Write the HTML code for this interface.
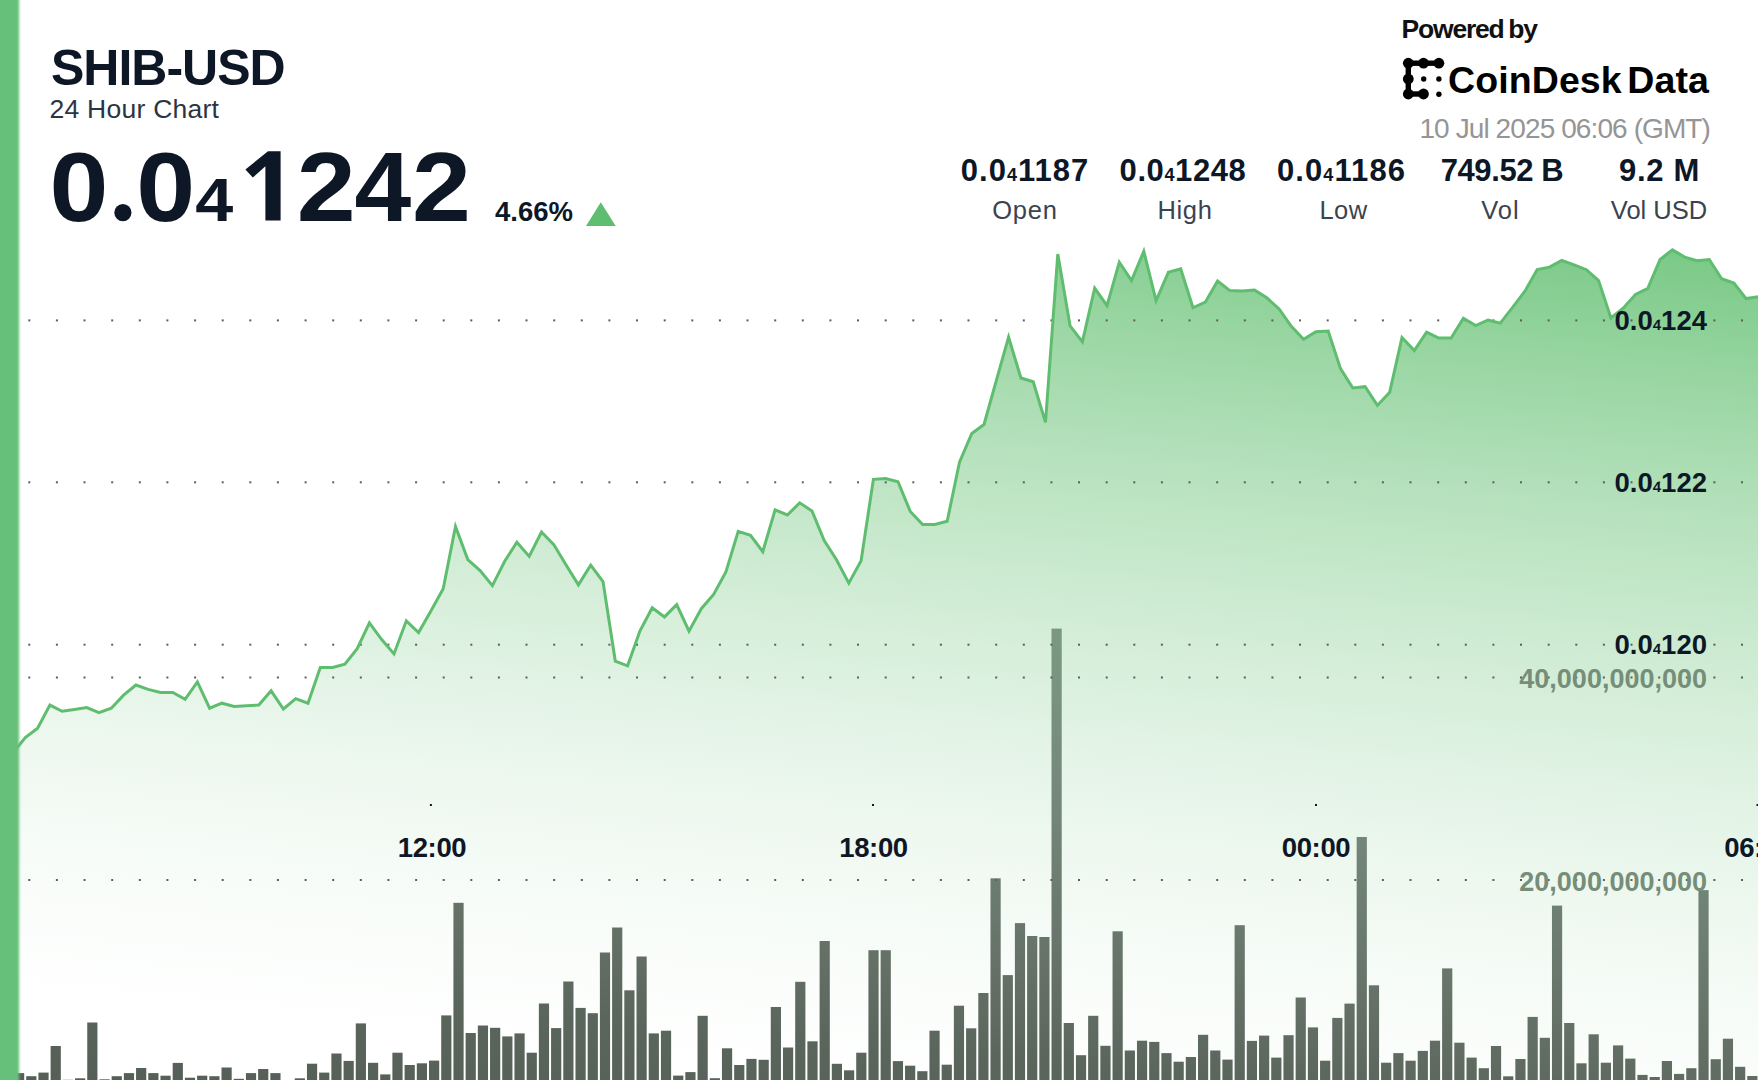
<!DOCTYPE html>
<html><head><meta charset="utf-8">
<style>
html,body{margin:0;padding:0;width:1758px;height:1080px;overflow:hidden;background:#fff;}
svg{position:absolute;left:-12px;top:-12px;}
text{font-family:"Liberation Sans",sans-serif;}
</style></head>
<body>
<svg width="1782" height="1104" viewBox="-12 -12 1782 1104">
<rect x="-12" y="-12" width="1782" height="1104" fill="#fff"/>
<defs>
<linearGradient id="ag" gradientUnits="userSpaceOnUse" x1="0" y1="0" x2="-108.91" y2="1089.11"><stop offset="0.0000" stop-color="#5fbe6e" stop-opacity="0.969"/><stop offset="0.0227" stop-color="#5fbe6e" stop-opacity="0.926"/><stop offset="0.0455" stop-color="#5fbe6e" stop-opacity="0.884"/><stop offset="0.0682" stop-color="#5fbe6e" stop-opacity="0.843"/><stop offset="0.0909" stop-color="#5fbe6e" stop-opacity="0.803"/><stop offset="0.1136" stop-color="#5fbe6e" stop-opacity="0.765"/><stop offset="0.1364" stop-color="#5fbe6e" stop-opacity="0.727"/><stop offset="0.1591" stop-color="#5fbe6e" stop-opacity="0.689"/><stop offset="0.1818" stop-color="#5fbe6e" stop-opacity="0.653"/><stop offset="0.2045" stop-color="#5fbe6e" stop-opacity="0.618"/><stop offset="0.2273" stop-color="#5fbe6e" stop-opacity="0.584"/><stop offset="0.2500" stop-color="#5fbe6e" stop-opacity="0.551"/><stop offset="0.2727" stop-color="#5fbe6e" stop-opacity="0.519"/><stop offset="0.2955" stop-color="#5fbe6e" stop-opacity="0.487"/><stop offset="0.3182" stop-color="#5fbe6e" stop-opacity="0.457"/><stop offset="0.3409" stop-color="#5fbe6e" stop-opacity="0.428"/><stop offset="0.3636" stop-color="#5fbe6e" stop-opacity="0.399"/><stop offset="0.3864" stop-color="#5fbe6e" stop-opacity="0.372"/><stop offset="0.4091" stop-color="#5fbe6e" stop-opacity="0.345"/><stop offset="0.4318" stop-color="#5fbe6e" stop-opacity="0.319"/><stop offset="0.4545" stop-color="#5fbe6e" stop-opacity="0.295"/><stop offset="0.4773" stop-color="#5fbe6e" stop-opacity="0.271"/><stop offset="0.5000" stop-color="#5fbe6e" stop-opacity="0.248"/><stop offset="0.5227" stop-color="#5fbe6e" stop-opacity="0.227"/><stop offset="0.5455" stop-color="#5fbe6e" stop-opacity="0.206"/><stop offset="0.5682" stop-color="#5fbe6e" stop-opacity="0.186"/><stop offset="0.5909" stop-color="#5fbe6e" stop-opacity="0.167"/><stop offset="0.6136" stop-color="#5fbe6e" stop-opacity="0.149"/><stop offset="0.6364" stop-color="#5fbe6e" stop-opacity="0.132"/><stop offset="0.6591" stop-color="#5fbe6e" stop-opacity="0.116"/><stop offset="0.6818" stop-color="#5fbe6e" stop-opacity="0.101"/><stop offset="0.7045" stop-color="#5fbe6e" stop-opacity="0.087"/><stop offset="0.7273" stop-color="#5fbe6e" stop-opacity="0.074"/><stop offset="0.7500" stop-color="#5fbe6e" stop-opacity="0.062"/><stop offset="0.7727" stop-color="#5fbe6e" stop-opacity="0.050"/><stop offset="0.7955" stop-color="#5fbe6e" stop-opacity="0.040"/><stop offset="0.8182" stop-color="#5fbe6e" stop-opacity="0.031"/><stop offset="0.8409" stop-color="#5fbe6e" stop-opacity="0.022"/><stop offset="0.8636" stop-color="#5fbe6e" stop-opacity="0.015"/><stop offset="0.8864" stop-color="#5fbe6e" stop-opacity="0.009"/><stop offset="0.9091" stop-color="#5fbe6e" stop-opacity="0.003"/><stop offset="0.9318" stop-color="#5fbe6e" stop-opacity="0.000"/><stop offset="0.9545" stop-color="#5fbe6e" stop-opacity="0.000"/><stop offset="0.9773" stop-color="#5fbe6e" stop-opacity="0.000"/><stop offset="1.0000" stop-color="#5fbe6e" stop-opacity="0.000"/></linearGradient>
<linearGradient id="bg" gradientUnits="userSpaceOnUse" x1="0" y1="0" x2="-108.91" y2="1089.11"><stop offset="0.0000" stop-color="rgb(128,165,134)"/><stop offset="0.4855" stop-color="rgb(122,152,128)"/><stop offset="0.6273" stop-color="rgb(116,136,122)"/><stop offset="0.7809" stop-color="rgb(102,114,104)"/><stop offset="0.8718" stop-color="rgb(90,101,92)"/><stop offset="1.0000" stop-color="rgb(84,94,86)"/></linearGradient>
</defs>
<path d="M0.7,762.0 L13.0,753.0 L25.3,737.6 L37.6,728.2 L49.9,705.1 L62.1,711.3 L74.4,709.4 L86.7,707.6 L99.0,712.6 L111.3,708.2 L123.6,695.1 L135.9,685.0 L148.2,689.4 L160.5,692.5 L172.8,692.5 L185.1,699.4 L197.4,681.9 L209.6,708.2 L221.9,703.2 L234.2,706.4 L246.5,705.7 L258.8,705.1 L271.1,690.8 L283.4,709.0 L295.7,698.6 L308.0,703.2 L320.3,667.5 L332.6,667.5 L344.9,664.3 L357.2,648.7 L369.4,622.8 L381.7,639.6 L394.0,653.9 L406.3,620.8 L418.6,632.5 L430.9,611.0 L443.2,588.7 L455.5,526.5 L467.8,559.6 L480.1,570.6 L492.4,585.6 L504.7,561.2 L516.9,542.3 L529.2,556.4 L541.5,532.0 L553.8,544.6 L566.1,565.1 L578.4,584.8 L590.7,565.1 L603.0,581.6 L615.3,661.1 L627.6,665.8 L639.9,631.1 L652.2,607.7 L664.5,616.9 L676.7,604.6 L689.0,631.1 L701.3,608.7 L713.6,594.4 L725.9,572.0 L738.2,531.3 L750.5,535.4 L762.8,551.7 L775.1,509.9 L787.4,515.0 L799.7,502.8 L812.0,510.9 L824.2,540.5 L836.5,559.8 L848.8,583.2 L861.1,560.8 L873.4,479.3 L885.7,478.5 L898.0,481.7 L910.3,511.5 L922.6,524.5 L934.9,524.5 L947.2,521.2 L959.5,462.2 L971.8,433.5 L984.0,424.5 L996.3,380.7 L1008.6,337.2 L1020.9,378.0 L1033.2,381.7 L1045.5,422.4 L1057.8,254.0 L1070.1,326.0 L1082.4,341.9 L1094.7,288.1 L1107.0,305.6 L1119.3,262.2 L1131.5,280.6 L1143.8,251.3 L1156.1,300.6 L1168.4,272.2 L1180.7,268.9 L1193.0,307.8 L1205.3,302.2 L1217.6,281.1 L1229.9,290.6 L1242.2,291.0 L1254.5,290.0 L1266.8,297.8 L1279.1,308.9 L1291.3,326.3 L1303.6,339.4 L1315.9,331.8 L1328.2,331.1 L1340.5,368.6 L1352.8,388.0 L1365.1,386.7 L1377.4,405.4 L1389.7,392.2 L1402.0,337.5 L1414.3,350.5 L1426.6,332.1 L1438.8,338.1 L1451.1,338.1 L1463.4,318.2 L1475.7,325.5 L1488.0,320.0 L1500.3,323.1 L1512.6,307.4 L1524.9,291.2 L1537.2,269.5 L1549.5,267.1 L1561.8,260.5 L1574.1,264.8 L1586.4,269.7 L1598.6,280.6 L1610.9,317.9 L1623.2,308.2 L1635.5,294.4 L1647.8,288.4 L1660.1,259.5 L1672.4,249.9 L1684.7,257.1 L1697.0,260.7 L1709.3,259.5 L1721.6,278.7 L1733.9,283.0 L1746.1,298.6 L1758.4,296.8 L1770.7,297.0 L1770.7,1100 L0.7,1100 Z" fill="url(#ag)"/>
<g fill="url(#bg)">
<rect x="14.00" y="1073.1" width="10.2" height="26.9"/>
<rect x="26.21" y="1076.2" width="10.2" height="23.8"/>
<rect x="38.41" y="1072.6" width="10.2" height="27.4"/>
<rect x="50.62" y="1046.0" width="10.2" height="54.0"/>
<rect x="62.83" y="1079.8" width="10.2" height="20.2"/>
<rect x="75.03" y="1078.3" width="10.2" height="21.7"/>
<rect x="87.24" y="1022.5" width="10.2" height="77.5"/>
<rect x="99.45" y="1079.3" width="10.2" height="20.7"/>
<rect x="111.65" y="1076.2" width="10.2" height="23.8"/>
<rect x="123.86" y="1073.1" width="10.2" height="26.9"/>
<rect x="136.06" y="1068.0" width="10.2" height="32.0"/>
<rect x="148.27" y="1073.1" width="10.2" height="26.9"/>
<rect x="160.47" y="1075.7" width="10.2" height="24.3"/>
<rect x="172.68" y="1062.9" width="10.2" height="37.1"/>
<rect x="184.89" y="1077.7" width="10.2" height="22.3"/>
<rect x="197.09" y="1075.7" width="10.2" height="24.3"/>
<rect x="209.30" y="1076.2" width="10.2" height="23.8"/>
<rect x="221.50" y="1067.5" width="10.2" height="32.5"/>
<rect x="233.71" y="1078.8" width="10.2" height="21.2"/>
<rect x="245.92" y="1073.1" width="10.2" height="26.9"/>
<rect x="258.12" y="1069.0" width="10.2" height="31.0"/>
<rect x="270.33" y="1073.1" width="10.2" height="26.9"/>
<rect x="282.53" y="1081.0" width="10.2" height="19.0"/>
<rect x="294.74" y="1078.3" width="10.2" height="21.7"/>
<rect x="306.95" y="1063.7" width="10.2" height="36.3"/>
<rect x="319.15" y="1072.6" width="10.2" height="27.4"/>
<rect x="331.36" y="1053.5" width="10.2" height="46.5"/>
<rect x="343.56" y="1060.9" width="10.2" height="39.1"/>
<rect x="355.77" y="1023.4" width="10.2" height="76.6"/>
<rect x="367.98" y="1062.8" width="10.2" height="37.2"/>
<rect x="380.18" y="1074.4" width="10.2" height="25.6"/>
<rect x="392.39" y="1052.7" width="10.2" height="47.3"/>
<rect x="404.59" y="1065.0" width="10.2" height="35.0"/>
<rect x="416.80" y="1063.3" width="10.2" height="36.7"/>
<rect x="429.01" y="1060.6" width="10.2" height="39.4"/>
<rect x="441.21" y="1015.4" width="10.2" height="84.6"/>
<rect x="453.42" y="902.8" width="10.2" height="197.2"/>
<rect x="465.62" y="1033.0" width="10.2" height="67.0"/>
<rect x="477.83" y="1025.5" width="10.2" height="74.5"/>
<rect x="490.04" y="1027.8" width="10.2" height="72.2"/>
<rect x="502.24" y="1036.4" width="10.2" height="63.6"/>
<rect x="514.45" y="1033.4" width="10.2" height="66.6"/>
<rect x="526.65" y="1052.7" width="10.2" height="47.3"/>
<rect x="538.86" y="1003.5" width="10.2" height="96.5"/>
<rect x="551.07" y="1028.1" width="10.2" height="71.9"/>
<rect x="563.27" y="981.5" width="10.2" height="118.5"/>
<rect x="575.48" y="1007.9" width="10.2" height="92.1"/>
<rect x="587.68" y="1013.2" width="10.2" height="86.8"/>
<rect x="599.89" y="952.5" width="10.2" height="147.5"/>
<rect x="612.10" y="927.5" width="10.2" height="172.5"/>
<rect x="624.30" y="990.3" width="10.2" height="109.7"/>
<rect x="636.51" y="956.5" width="10.2" height="143.5"/>
<rect x="648.71" y="1033.4" width="10.2" height="66.6"/>
<rect x="660.92" y="1030.7" width="10.2" height="69.3"/>
<rect x="673.13" y="1075.6" width="10.2" height="24.4"/>
<rect x="685.33" y="1072.1" width="10.2" height="27.9"/>
<rect x="697.54" y="1015.8" width="10.2" height="84.2"/>
<rect x="709.75" y="1078.2" width="10.2" height="21.8"/>
<rect x="721.95" y="1048.3" width="10.2" height="51.7"/>
<rect x="734.16" y="1065.0" width="10.2" height="35.0"/>
<rect x="746.36" y="1058.9" width="10.2" height="41.1"/>
<rect x="758.57" y="1059.8" width="10.2" height="40.2"/>
<rect x="770.77" y="1007.0" width="10.2" height="93.0"/>
<rect x="782.98" y="1047.5" width="10.2" height="52.5"/>
<rect x="795.19" y="981.8" width="10.2" height="118.2"/>
<rect x="807.39" y="1041.3" width="10.2" height="58.7"/>
<rect x="819.60" y="941.0" width="10.2" height="159.0"/>
<rect x="831.80" y="1063.8" width="10.2" height="36.2"/>
<rect x="844.01" y="1070.3" width="10.2" height="29.7"/>
<rect x="856.22" y="1052.7" width="10.2" height="47.3"/>
<rect x="868.42" y="950.2" width="10.2" height="149.8"/>
<rect x="880.63" y="950.2" width="10.2" height="149.8"/>
<rect x="892.83" y="1061.1" width="10.2" height="38.9"/>
<rect x="905.04" y="1065.7" width="10.2" height="34.3"/>
<rect x="917.25" y="1071.2" width="10.2" height="28.8"/>
<rect x="929.45" y="1030.7" width="10.2" height="69.3"/>
<rect x="941.66" y="1064.7" width="10.2" height="35.3"/>
<rect x="953.86" y="1005.7" width="10.2" height="94.3"/>
<rect x="966.07" y="1028.3" width="10.2" height="71.7"/>
<rect x="978.28" y="993.0" width="10.2" height="107.0"/>
<rect x="990.48" y="878.3" width="10.2" height="221.7"/>
<rect x="1002.69" y="975.1" width="10.2" height="124.9"/>
<rect x="1014.89" y="923.1" width="10.2" height="176.9"/>
<rect x="1027.10" y="936.0" width="10.2" height="164.0"/>
<rect x="1039.31" y="937.0" width="10.2" height="163.0"/>
<rect x="1051.51" y="628.6" width="10.2" height="471.4"/>
<rect x="1063.72" y="1023.0" width="10.2" height="77.0"/>
<rect x="1075.92" y="1055.2" width="10.2" height="44.8"/>
<rect x="1088.13" y="1015.8" width="10.2" height="84.2"/>
<rect x="1100.34" y="1045.8" width="10.2" height="54.2"/>
<rect x="1112.54" y="931.3" width="10.2" height="168.7"/>
<rect x="1124.75" y="1050.5" width="10.2" height="49.5"/>
<rect x="1136.96" y="1040.7" width="10.2" height="59.3"/>
<rect x="1149.16" y="1041.9" width="10.2" height="58.1"/>
<rect x="1161.37" y="1053.1" width="10.2" height="46.9"/>
<rect x="1173.57" y="1061.7" width="10.2" height="38.3"/>
<rect x="1185.78" y="1057.0" width="10.2" height="43.0"/>
<rect x="1197.99" y="1034.8" width="10.2" height="65.2"/>
<rect x="1210.19" y="1050.5" width="10.2" height="49.5"/>
<rect x="1222.40" y="1059.6" width="10.2" height="40.4"/>
<rect x="1234.60" y="925.2" width="10.2" height="174.8"/>
<rect x="1246.81" y="1040.9" width="10.2" height="59.1"/>
<rect x="1259.02" y="1035.6" width="10.2" height="64.4"/>
<rect x="1271.22" y="1057.6" width="10.2" height="42.4"/>
<rect x="1283.43" y="1035.2" width="10.2" height="64.8"/>
<rect x="1295.63" y="997.5" width="10.2" height="102.5"/>
<rect x="1307.84" y="1027.4" width="10.2" height="72.6"/>
<rect x="1320.05" y="1060.7" width="10.2" height="39.3"/>
<rect x="1332.25" y="1017.9" width="10.2" height="82.1"/>
<rect x="1344.46" y="1003.6" width="10.2" height="96.4"/>
<rect x="1356.66" y="837.0" width="10.2" height="263.0"/>
<rect x="1368.87" y="985.3" width="10.2" height="114.7"/>
<rect x="1381.08" y="1062.7" width="10.2" height="37.3"/>
<rect x="1393.28" y="1053.1" width="10.2" height="46.9"/>
<rect x="1405.49" y="1060.7" width="10.2" height="39.3"/>
<rect x="1417.69" y="1050.9" width="10.2" height="49.1"/>
<rect x="1429.90" y="1040.7" width="10.2" height="59.3"/>
<rect x="1442.11" y="968.4" width="10.2" height="131.6"/>
<rect x="1454.31" y="1042.7" width="10.2" height="57.3"/>
<rect x="1466.52" y="1057.6" width="10.2" height="42.4"/>
<rect x="1478.72" y="1068.2" width="10.2" height="31.8"/>
<rect x="1490.93" y="1046.0" width="10.2" height="54.0"/>
<rect x="1503.13" y="1076.3" width="10.2" height="23.7"/>
<rect x="1515.34" y="1059.0" width="10.2" height="41.0"/>
<rect x="1527.55" y="1016.9" width="10.2" height="83.1"/>
<rect x="1539.75" y="1037.8" width="10.2" height="62.2"/>
<rect x="1551.96" y="905.6" width="10.2" height="194.4"/>
<rect x="1564.16" y="1023.0" width="10.2" height="77.0"/>
<rect x="1576.37" y="1063.3" width="10.2" height="36.7"/>
<rect x="1588.58" y="1034.3" width="10.2" height="65.7"/>
<rect x="1600.78" y="1062.7" width="10.2" height="37.3"/>
<rect x="1612.99" y="1045.4" width="10.2" height="54.6"/>
<rect x="1625.19" y="1058.6" width="10.2" height="41.4"/>
<rect x="1637.40" y="1074.9" width="10.2" height="25.1"/>
<rect x="1649.61" y="1077.0" width="10.2" height="23.0"/>
<rect x="1661.81" y="1061.0" width="10.2" height="39.0"/>
<rect x="1674.02" y="1073.9" width="10.2" height="26.1"/>
<rect x="1686.23" y="1068.2" width="10.2" height="31.8"/>
<rect x="1698.43" y="890.1" width="10.2" height="209.9"/>
<rect x="1710.64" y="1059.2" width="10.2" height="40.8"/>
<rect x="1722.84" y="1038.7" width="10.2" height="61.3"/>
<rect x="1735.05" y="1066.8" width="10.2" height="33.2"/>
<rect x="1747.26" y="1076.0" width="10.2" height="24.0"/>
</g>
<g fill="#5e5e5e">
<rect x="28.3" y="319.4" width="2" height="2"/>
<rect x="55.9" y="319.4" width="2" height="2"/>
<rect x="83.5" y="319.4" width="2" height="2"/>
<rect x="111.2" y="319.4" width="2" height="2"/>
<rect x="138.8" y="319.4" width="2" height="2"/>
<rect x="166.4" y="319.4" width="2" height="2"/>
<rect x="194.1" y="319.4" width="2" height="2"/>
<rect x="221.7" y="319.4" width="2" height="2"/>
<rect x="249.3" y="319.4" width="2" height="2"/>
<rect x="276.9" y="319.4" width="2" height="2"/>
<rect x="304.6" y="319.4" width="2" height="2"/>
<rect x="332.2" y="319.4" width="2" height="2"/>
<rect x="359.8" y="319.4" width="2" height="2"/>
<rect x="387.4" y="319.4" width="2" height="2"/>
<rect x="415.1" y="319.4" width="2" height="2"/>
<rect x="442.7" y="319.4" width="2" height="2"/>
<rect x="470.3" y="319.4" width="2" height="2"/>
<rect x="497.9" y="319.4" width="2" height="2"/>
<rect x="525.5" y="319.4" width="2" height="2"/>
<rect x="553.2" y="319.4" width="2" height="2"/>
<rect x="580.8" y="319.4" width="2" height="2"/>
<rect x="608.4" y="319.4" width="2" height="2"/>
<rect x="636.0" y="319.4" width="2" height="2"/>
<rect x="663.7" y="319.4" width="2" height="2"/>
<rect x="691.3" y="319.4" width="2" height="2"/>
<rect x="718.9" y="319.4" width="2" height="2"/>
<rect x="746.5" y="319.4" width="2" height="2"/>
<rect x="774.2" y="319.4" width="2" height="2"/>
<rect x="801.8" y="319.4" width="2" height="2"/>
<rect x="829.4" y="319.4" width="2" height="2"/>
<rect x="857.0" y="319.4" width="2" height="2"/>
<rect x="884.7" y="319.4" width="2" height="2"/>
<rect x="912.3" y="319.4" width="2" height="2"/>
<rect x="939.9" y="319.4" width="2" height="2"/>
<rect x="967.5" y="319.4" width="2" height="2"/>
<rect x="995.2" y="319.4" width="2" height="2"/>
<rect x="1022.8" y="319.4" width="2" height="2"/>
<rect x="1050.4" y="319.4" width="2" height="2"/>
<rect x="1078.0" y="319.4" width="2" height="2"/>
<rect x="1105.7" y="319.4" width="2" height="2"/>
<rect x="1133.3" y="319.4" width="2" height="2"/>
<rect x="1160.9" y="319.4" width="2" height="2"/>
<rect x="1188.5" y="319.4" width="2" height="2"/>
<rect x="1216.2" y="319.4" width="2" height="2"/>
<rect x="1243.8" y="319.4" width="2" height="2"/>
<rect x="1271.4" y="319.4" width="2" height="2"/>
<rect x="1299.0" y="319.4" width="2" height="2"/>
<rect x="1326.7" y="319.4" width="2" height="2"/>
<rect x="1354.3" y="319.4" width="2" height="2"/>
<rect x="1381.9" y="319.4" width="2" height="2"/>
<rect x="1409.5" y="319.4" width="2" height="2"/>
<rect x="1437.2" y="319.4" width="2" height="2"/>
<rect x="1464.8" y="319.4" width="2" height="2"/>
<rect x="1492.4" y="319.4" width="2" height="2"/>
<rect x="1520.0" y="319.4" width="2" height="2"/>
<rect x="1547.7" y="319.4" width="2" height="2"/>
<rect x="1575.3" y="319.4" width="2" height="2"/>
<rect x="1602.9" y="319.4" width="2" height="2"/>
<rect x="1630.5" y="319.4" width="2" height="2"/>
<rect x="1658.2" y="319.4" width="2" height="2"/>
<rect x="1685.8" y="319.4" width="2" height="2"/>
<rect x="1713.4" y="319.4" width="2" height="2"/>
<rect x="1741.0" y="319.4" width="2" height="2"/>
<rect x="28.3" y="481.3" width="2" height="2"/>
<rect x="55.9" y="481.3" width="2" height="2"/>
<rect x="83.5" y="481.3" width="2" height="2"/>
<rect x="111.2" y="481.3" width="2" height="2"/>
<rect x="138.8" y="481.3" width="2" height="2"/>
<rect x="166.4" y="481.3" width="2" height="2"/>
<rect x="194.1" y="481.3" width="2" height="2"/>
<rect x="221.7" y="481.3" width="2" height="2"/>
<rect x="249.3" y="481.3" width="2" height="2"/>
<rect x="276.9" y="481.3" width="2" height="2"/>
<rect x="304.6" y="481.3" width="2" height="2"/>
<rect x="332.2" y="481.3" width="2" height="2"/>
<rect x="359.8" y="481.3" width="2" height="2"/>
<rect x="387.4" y="481.3" width="2" height="2"/>
<rect x="415.1" y="481.3" width="2" height="2"/>
<rect x="442.7" y="481.3" width="2" height="2"/>
<rect x="470.3" y="481.3" width="2" height="2"/>
<rect x="497.9" y="481.3" width="2" height="2"/>
<rect x="525.5" y="481.3" width="2" height="2"/>
<rect x="553.2" y="481.3" width="2" height="2"/>
<rect x="580.8" y="481.3" width="2" height="2"/>
<rect x="608.4" y="481.3" width="2" height="2"/>
<rect x="636.0" y="481.3" width="2" height="2"/>
<rect x="663.7" y="481.3" width="2" height="2"/>
<rect x="691.3" y="481.3" width="2" height="2"/>
<rect x="718.9" y="481.3" width="2" height="2"/>
<rect x="746.5" y="481.3" width="2" height="2"/>
<rect x="774.2" y="481.3" width="2" height="2"/>
<rect x="801.8" y="481.3" width="2" height="2"/>
<rect x="829.4" y="481.3" width="2" height="2"/>
<rect x="857.0" y="481.3" width="2" height="2"/>
<rect x="884.7" y="481.3" width="2" height="2"/>
<rect x="912.3" y="481.3" width="2" height="2"/>
<rect x="939.9" y="481.3" width="2" height="2"/>
<rect x="967.5" y="481.3" width="2" height="2"/>
<rect x="995.2" y="481.3" width="2" height="2"/>
<rect x="1022.8" y="481.3" width="2" height="2"/>
<rect x="1050.4" y="481.3" width="2" height="2"/>
<rect x="1078.0" y="481.3" width="2" height="2"/>
<rect x="1105.7" y="481.3" width="2" height="2"/>
<rect x="1133.3" y="481.3" width="2" height="2"/>
<rect x="1160.9" y="481.3" width="2" height="2"/>
<rect x="1188.5" y="481.3" width="2" height="2"/>
<rect x="1216.2" y="481.3" width="2" height="2"/>
<rect x="1243.8" y="481.3" width="2" height="2"/>
<rect x="1271.4" y="481.3" width="2" height="2"/>
<rect x="1299.0" y="481.3" width="2" height="2"/>
<rect x="1326.7" y="481.3" width="2" height="2"/>
<rect x="1354.3" y="481.3" width="2" height="2"/>
<rect x="1381.9" y="481.3" width="2" height="2"/>
<rect x="1409.5" y="481.3" width="2" height="2"/>
<rect x="1437.2" y="481.3" width="2" height="2"/>
<rect x="1464.8" y="481.3" width="2" height="2"/>
<rect x="1492.4" y="481.3" width="2" height="2"/>
<rect x="1520.0" y="481.3" width="2" height="2"/>
<rect x="1547.7" y="481.3" width="2" height="2"/>
<rect x="1575.3" y="481.3" width="2" height="2"/>
<rect x="1602.9" y="481.3" width="2" height="2"/>
<rect x="1630.5" y="481.3" width="2" height="2"/>
<rect x="1658.2" y="481.3" width="2" height="2"/>
<rect x="1685.8" y="481.3" width="2" height="2"/>
<rect x="1713.4" y="481.3" width="2" height="2"/>
<rect x="1741.0" y="481.3" width="2" height="2"/>
<rect x="28.3" y="643.7" width="2" height="2"/>
<rect x="55.9" y="643.7" width="2" height="2"/>
<rect x="83.5" y="643.7" width="2" height="2"/>
<rect x="111.2" y="643.7" width="2" height="2"/>
<rect x="138.8" y="643.7" width="2" height="2"/>
<rect x="166.4" y="643.7" width="2" height="2"/>
<rect x="194.1" y="643.7" width="2" height="2"/>
<rect x="221.7" y="643.7" width="2" height="2"/>
<rect x="249.3" y="643.7" width="2" height="2"/>
<rect x="276.9" y="643.7" width="2" height="2"/>
<rect x="304.6" y="643.7" width="2" height="2"/>
<rect x="332.2" y="643.7" width="2" height="2"/>
<rect x="359.8" y="643.7" width="2" height="2"/>
<rect x="387.4" y="643.7" width="2" height="2"/>
<rect x="415.1" y="643.7" width="2" height="2"/>
<rect x="442.7" y="643.7" width="2" height="2"/>
<rect x="470.3" y="643.7" width="2" height="2"/>
<rect x="497.9" y="643.7" width="2" height="2"/>
<rect x="525.5" y="643.7" width="2" height="2"/>
<rect x="553.2" y="643.7" width="2" height="2"/>
<rect x="580.8" y="643.7" width="2" height="2"/>
<rect x="608.4" y="643.7" width="2" height="2"/>
<rect x="636.0" y="643.7" width="2" height="2"/>
<rect x="663.7" y="643.7" width="2" height="2"/>
<rect x="691.3" y="643.7" width="2" height="2"/>
<rect x="718.9" y="643.7" width="2" height="2"/>
<rect x="746.5" y="643.7" width="2" height="2"/>
<rect x="774.2" y="643.7" width="2" height="2"/>
<rect x="801.8" y="643.7" width="2" height="2"/>
<rect x="829.4" y="643.7" width="2" height="2"/>
<rect x="857.0" y="643.7" width="2" height="2"/>
<rect x="884.7" y="643.7" width="2" height="2"/>
<rect x="912.3" y="643.7" width="2" height="2"/>
<rect x="939.9" y="643.7" width="2" height="2"/>
<rect x="967.5" y="643.7" width="2" height="2"/>
<rect x="995.2" y="643.7" width="2" height="2"/>
<rect x="1022.8" y="643.7" width="2" height="2"/>
<rect x="1050.4" y="643.7" width="2" height="2"/>
<rect x="1078.0" y="643.7" width="2" height="2"/>
<rect x="1105.7" y="643.7" width="2" height="2"/>
<rect x="1133.3" y="643.7" width="2" height="2"/>
<rect x="1160.9" y="643.7" width="2" height="2"/>
<rect x="1188.5" y="643.7" width="2" height="2"/>
<rect x="1216.2" y="643.7" width="2" height="2"/>
<rect x="1243.8" y="643.7" width="2" height="2"/>
<rect x="1271.4" y="643.7" width="2" height="2"/>
<rect x="1299.0" y="643.7" width="2" height="2"/>
<rect x="1326.7" y="643.7" width="2" height="2"/>
<rect x="1354.3" y="643.7" width="2" height="2"/>
<rect x="1381.9" y="643.7" width="2" height="2"/>
<rect x="1409.5" y="643.7" width="2" height="2"/>
<rect x="1437.2" y="643.7" width="2" height="2"/>
<rect x="1464.8" y="643.7" width="2" height="2"/>
<rect x="1492.4" y="643.7" width="2" height="2"/>
<rect x="1520.0" y="643.7" width="2" height="2"/>
<rect x="1547.7" y="643.7" width="2" height="2"/>
<rect x="1575.3" y="643.7" width="2" height="2"/>
<rect x="1602.9" y="643.7" width="2" height="2"/>
<rect x="1630.5" y="643.7" width="2" height="2"/>
<rect x="1658.2" y="643.7" width="2" height="2"/>
<rect x="1685.8" y="643.7" width="2" height="2"/>
<rect x="1713.4" y="643.7" width="2" height="2"/>
<rect x="1741.0" y="643.7" width="2" height="2"/>
<rect x="28.3" y="676.5" width="2" height="2"/>
<rect x="55.9" y="676.5" width="2" height="2"/>
<rect x="83.5" y="676.5" width="2" height="2"/>
<rect x="111.2" y="676.5" width="2" height="2"/>
<rect x="138.8" y="676.5" width="2" height="2"/>
<rect x="166.4" y="676.5" width="2" height="2"/>
<rect x="194.1" y="676.5" width="2" height="2"/>
<rect x="221.7" y="676.5" width="2" height="2"/>
<rect x="249.3" y="676.5" width="2" height="2"/>
<rect x="276.9" y="676.5" width="2" height="2"/>
<rect x="304.6" y="676.5" width="2" height="2"/>
<rect x="332.2" y="676.5" width="2" height="2"/>
<rect x="359.8" y="676.5" width="2" height="2"/>
<rect x="387.4" y="676.5" width="2" height="2"/>
<rect x="415.1" y="676.5" width="2" height="2"/>
<rect x="442.7" y="676.5" width="2" height="2"/>
<rect x="470.3" y="676.5" width="2" height="2"/>
<rect x="497.9" y="676.5" width="2" height="2"/>
<rect x="525.5" y="676.5" width="2" height="2"/>
<rect x="553.2" y="676.5" width="2" height="2"/>
<rect x="580.8" y="676.5" width="2" height="2"/>
<rect x="608.4" y="676.5" width="2" height="2"/>
<rect x="636.0" y="676.5" width="2" height="2"/>
<rect x="663.7" y="676.5" width="2" height="2"/>
<rect x="691.3" y="676.5" width="2" height="2"/>
<rect x="718.9" y="676.5" width="2" height="2"/>
<rect x="746.5" y="676.5" width="2" height="2"/>
<rect x="774.2" y="676.5" width="2" height="2"/>
<rect x="801.8" y="676.5" width="2" height="2"/>
<rect x="829.4" y="676.5" width="2" height="2"/>
<rect x="857.0" y="676.5" width="2" height="2"/>
<rect x="884.7" y="676.5" width="2" height="2"/>
<rect x="912.3" y="676.5" width="2" height="2"/>
<rect x="939.9" y="676.5" width="2" height="2"/>
<rect x="967.5" y="676.5" width="2" height="2"/>
<rect x="995.2" y="676.5" width="2" height="2"/>
<rect x="1022.8" y="676.5" width="2" height="2"/>
<rect x="1050.4" y="676.5" width="2" height="2"/>
<rect x="1078.0" y="676.5" width="2" height="2"/>
<rect x="1105.7" y="676.5" width="2" height="2"/>
<rect x="1133.3" y="676.5" width="2" height="2"/>
<rect x="1160.9" y="676.5" width="2" height="2"/>
<rect x="1188.5" y="676.5" width="2" height="2"/>
<rect x="1216.2" y="676.5" width="2" height="2"/>
<rect x="1243.8" y="676.5" width="2" height="2"/>
<rect x="1271.4" y="676.5" width="2" height="2"/>
<rect x="1299.0" y="676.5" width="2" height="2"/>
<rect x="1326.7" y="676.5" width="2" height="2"/>
<rect x="1354.3" y="676.5" width="2" height="2"/>
<rect x="1381.9" y="676.5" width="2" height="2"/>
<rect x="1409.5" y="676.5" width="2" height="2"/>
<rect x="1437.2" y="676.5" width="2" height="2"/>
<rect x="1464.8" y="676.5" width="2" height="2"/>
<rect x="1492.4" y="676.5" width="2" height="2"/>
<rect x="1520.0" y="676.5" width="2" height="2"/>
<rect x="1547.7" y="676.5" width="2" height="2"/>
<rect x="1575.3" y="676.5" width="2" height="2"/>
<rect x="1602.9" y="676.5" width="2" height="2"/>
<rect x="1630.5" y="676.5" width="2" height="2"/>
<rect x="1658.2" y="676.5" width="2" height="2"/>
<rect x="1685.8" y="676.5" width="2" height="2"/>
<rect x="1713.4" y="676.5" width="2" height="2"/>
<rect x="1741.0" y="676.5" width="2" height="2"/>
<rect x="28.3" y="879.0" width="2" height="2"/>
<rect x="55.9" y="879.0" width="2" height="2"/>
<rect x="83.5" y="879.0" width="2" height="2"/>
<rect x="111.2" y="879.0" width="2" height="2"/>
<rect x="138.8" y="879.0" width="2" height="2"/>
<rect x="166.4" y="879.0" width="2" height="2"/>
<rect x="194.1" y="879.0" width="2" height="2"/>
<rect x="221.7" y="879.0" width="2" height="2"/>
<rect x="249.3" y="879.0" width="2" height="2"/>
<rect x="276.9" y="879.0" width="2" height="2"/>
<rect x="304.6" y="879.0" width="2" height="2"/>
<rect x="332.2" y="879.0" width="2" height="2"/>
<rect x="359.8" y="879.0" width="2" height="2"/>
<rect x="387.4" y="879.0" width="2" height="2"/>
<rect x="415.1" y="879.0" width="2" height="2"/>
<rect x="442.7" y="879.0" width="2" height="2"/>
<rect x="470.3" y="879.0" width="2" height="2"/>
<rect x="497.9" y="879.0" width="2" height="2"/>
<rect x="525.5" y="879.0" width="2" height="2"/>
<rect x="553.2" y="879.0" width="2" height="2"/>
<rect x="580.8" y="879.0" width="2" height="2"/>
<rect x="608.4" y="879.0" width="2" height="2"/>
<rect x="636.0" y="879.0" width="2" height="2"/>
<rect x="663.7" y="879.0" width="2" height="2"/>
<rect x="691.3" y="879.0" width="2" height="2"/>
<rect x="718.9" y="879.0" width="2" height="2"/>
<rect x="746.5" y="879.0" width="2" height="2"/>
<rect x="774.2" y="879.0" width="2" height="2"/>
<rect x="801.8" y="879.0" width="2" height="2"/>
<rect x="829.4" y="879.0" width="2" height="2"/>
<rect x="857.0" y="879.0" width="2" height="2"/>
<rect x="884.7" y="879.0" width="2" height="2"/>
<rect x="912.3" y="879.0" width="2" height="2"/>
<rect x="939.9" y="879.0" width="2" height="2"/>
<rect x="967.5" y="879.0" width="2" height="2"/>
<rect x="995.2" y="879.0" width="2" height="2"/>
<rect x="1022.8" y="879.0" width="2" height="2"/>
<rect x="1050.4" y="879.0" width="2" height="2"/>
<rect x="1078.0" y="879.0" width="2" height="2"/>
<rect x="1105.7" y="879.0" width="2" height="2"/>
<rect x="1133.3" y="879.0" width="2" height="2"/>
<rect x="1160.9" y="879.0" width="2" height="2"/>
<rect x="1188.5" y="879.0" width="2" height="2"/>
<rect x="1216.2" y="879.0" width="2" height="2"/>
<rect x="1243.8" y="879.0" width="2" height="2"/>
<rect x="1271.4" y="879.0" width="2" height="2"/>
<rect x="1299.0" y="879.0" width="2" height="2"/>
<rect x="1326.7" y="879.0" width="2" height="2"/>
<rect x="1354.3" y="879.0" width="2" height="2"/>
<rect x="1381.9" y="879.0" width="2" height="2"/>
<rect x="1409.5" y="879.0" width="2" height="2"/>
<rect x="1437.2" y="879.0" width="2" height="2"/>
<rect x="1464.8" y="879.0" width="2" height="2"/>
<rect x="1492.4" y="879.0" width="2" height="2"/>
<rect x="1520.0" y="879.0" width="2" height="2"/>
<rect x="1547.7" y="879.0" width="2" height="2"/>
<rect x="1575.3" y="879.0" width="2" height="2"/>
<rect x="1602.9" y="879.0" width="2" height="2"/>
<rect x="1630.5" y="879.0" width="2" height="2"/>
<rect x="1658.2" y="879.0" width="2" height="2"/>
<rect x="1685.8" y="879.0" width="2" height="2"/>
<rect x="1713.4" y="879.0" width="2" height="2"/>
<rect x="1741.0" y="879.0" width="2" height="2"/>
</g>
<path d="M0.7,762.0 L13.0,753.0 L25.3,737.6 L37.6,728.2 L49.9,705.1 L62.1,711.3 L74.4,709.4 L86.7,707.6 L99.0,712.6 L111.3,708.2 L123.6,695.1 L135.9,685.0 L148.2,689.4 L160.5,692.5 L172.8,692.5 L185.1,699.4 L197.4,681.9 L209.6,708.2 L221.9,703.2 L234.2,706.4 L246.5,705.7 L258.8,705.1 L271.1,690.8 L283.4,709.0 L295.7,698.6 L308.0,703.2 L320.3,667.5 L332.6,667.5 L344.9,664.3 L357.2,648.7 L369.4,622.8 L381.7,639.6 L394.0,653.9 L406.3,620.8 L418.6,632.5 L430.9,611.0 L443.2,588.7 L455.5,526.5 L467.8,559.6 L480.1,570.6 L492.4,585.6 L504.7,561.2 L516.9,542.3 L529.2,556.4 L541.5,532.0 L553.8,544.6 L566.1,565.1 L578.4,584.8 L590.7,565.1 L603.0,581.6 L615.3,661.1 L627.6,665.8 L639.9,631.1 L652.2,607.7 L664.5,616.9 L676.7,604.6 L689.0,631.1 L701.3,608.7 L713.6,594.4 L725.9,572.0 L738.2,531.3 L750.5,535.4 L762.8,551.7 L775.1,509.9 L787.4,515.0 L799.7,502.8 L812.0,510.9 L824.2,540.5 L836.5,559.8 L848.8,583.2 L861.1,560.8 L873.4,479.3 L885.7,478.5 L898.0,481.7 L910.3,511.5 L922.6,524.5 L934.9,524.5 L947.2,521.2 L959.5,462.2 L971.8,433.5 L984.0,424.5 L996.3,380.7 L1008.6,337.2 L1020.9,378.0 L1033.2,381.7 L1045.5,422.4 L1057.8,254.0 L1070.1,326.0 L1082.4,341.9 L1094.7,288.1 L1107.0,305.6 L1119.3,262.2 L1131.5,280.6 L1143.8,251.3 L1156.1,300.6 L1168.4,272.2 L1180.7,268.9 L1193.0,307.8 L1205.3,302.2 L1217.6,281.1 L1229.9,290.6 L1242.2,291.0 L1254.5,290.0 L1266.8,297.8 L1279.1,308.9 L1291.3,326.3 L1303.6,339.4 L1315.9,331.8 L1328.2,331.1 L1340.5,368.6 L1352.8,388.0 L1365.1,386.7 L1377.4,405.4 L1389.7,392.2 L1402.0,337.5 L1414.3,350.5 L1426.6,332.1 L1438.8,338.1 L1451.1,338.1 L1463.4,318.2 L1475.7,325.5 L1488.0,320.0 L1500.3,323.1 L1512.6,307.4 L1524.9,291.2 L1537.2,269.5 L1549.5,267.1 L1561.8,260.5 L1574.1,264.8 L1586.4,269.7 L1598.6,280.6 L1610.9,317.9 L1623.2,308.2 L1635.5,294.4 L1647.8,288.4 L1660.1,259.5 L1672.4,249.9 L1684.7,257.1 L1697.0,260.7 L1709.3,259.5 L1721.6,278.7 L1733.9,283.0 L1746.1,298.6 L1758.4,296.8 L1770.7,297.0" fill="none" stroke="#5fbd6f" stroke-width="3"/>
<g fill="#0d1726" font-weight="bold" font-size="27.5" text-anchor="end">
<text x="1707" y="329.6">0.0<tspan font-size="15">4</tspan>124</text>
<text x="1707" y="491.5">0.0<tspan font-size="15">4</tspan>122</text>
<text x="1707" y="654">0.0<tspan font-size="15">4</tspan>120</text>
</g>
<g fill="rgb(118,142,121)" font-weight="bold" font-size="27" text-anchor="end">
<text x="1707" y="688">40,000,000,000</text>
<text x="1707" y="890.5">20,000,000,000</text>
</g>
<g fill="#0d1726">
<rect x="429.9" y="804" width="2" height="2"/>
<rect x="872" y="804" width="2" height="2"/>
<rect x="1315" y="804" width="2" height="2"/>
<rect x="1756.5" y="804" width="2" height="2"/>
</g>
<g fill="#0d1726" font-weight="bold" font-size="27.5" text-anchor="middle" letter-spacing="-0.35">
<text x="432" y="856.9">12:00</text>
<text x="873.5" y="856.9">18:00</text>
<text x="1316" y="856.9">00:00</text>
<text x="1758.5" y="856.9">06:00</text>
</g>
<linearGradient id="gb" gradientUnits="userSpaceOnUse" x1="16.3" y1="0" x2="21.9" y2="0">
<stop offset="0" stop-color="#67c079" stop-opacity="1"/>
<stop offset="0.25" stop-color="#67c079" stop-opacity="0.88"/>
<stop offset="0.5" stop-color="#67c079" stop-opacity="0.5"/>
<stop offset="0.75" stop-color="#67c079" stop-opacity="0.12"/>
<stop offset="1" stop-color="#67c079" stop-opacity="0"/>
</linearGradient>
<rect x="-12" y="-12" width="29" height="1104" fill="#67c079"/>
<rect x="16.3" y="-12" width="5.6" height="1104" fill="url(#gb)"/>

<!-- header -->
<text x="51" y="85.1" font-size="50" font-weight="bold" fill="#0d1726" letter-spacing="-1">SHIB-USD</text>
<text x="49.5" y="118.1" font-size="26.5" fill="#2b3442" letter-spacing="0.25">24 Hour Chart</text>
<g fill="#0d1726" font-weight="bold" font-size="99">
<text transform="translate(49.55,220.6) scale(1.07,1)">0</text>
<circle cx="122.9" cy="212.6" r="8.6"/>
<text transform="translate(136.15,220.6) scale(1.07,1)">0</text>
<text transform="translate(195.3,221.3) scale(1.12,1)" font-size="61">4</text>
<path d="M245.4,169.4 L268,151.3 L280.6,151.3 L280.6,220.6 L265.4,220.6 L265.4,166.3 L252.8,177.6 Z"/>
<text transform="translate(296.75,220.6) scale(1.07,1)">2</text>
<text transform="translate(354.4,220.6) scale(1.03,1)">4</text>
<text transform="translate(411.95,220.6) scale(1.07,1)">2</text>
</g>
<text x="495" y="221.1" font-size="27.5" font-weight="bold" fill="#0d1726">4.66%</text>
<path d="M586,226 L615.7,226 L600.8,202.2 Z" fill="#5fbd6f"/>

<g text-anchor="middle">
<g fill="#0d1726" font-weight="bold" font-size="31">
<text x="1025" y="181" letter-spacing="1">0.0<tspan font-size="18">4</tspan>1187</text>
<text x="1183" y="181" letter-spacing="0.6">0.0<tspan font-size="18">4</tspan>1248</text>
<text x="1341.5" y="181" letter-spacing="1.1">0.0<tspan font-size="18">4</tspan>1186</text>
<text x="1502" y="181" letter-spacing="-0.4">749.52 B</text>
<text x="1659.5" y="181" letter-spacing="0.7">9.2 M</text>
</g>
<g fill="#3b4350" font-size="25.5">
<text x="1025" y="218.8" letter-spacing="0.8">Open</text>
<text x="1185" y="218.8" letter-spacing="0.7">High</text>
<text x="1343.5" y="218.8" letter-spacing="0.4">Low</text>
<text x="1500.5" y="218.8" letter-spacing="1">Vol</text>
<text x="1659" y="218.8">Vol USD</text>
</g>
</g>
<text x="1710" y="138.4" font-size="28" fill="#959595" text-anchor="end" letter-spacing="-0.9">10 Jul 2025 06:06 (GMT)</text>
<text x="1401.5" y="37.8" font-size="26.5" font-weight="bold" fill="#111" letter-spacing="-1.2" word-spacing="-1.5">Powered by</text>
<text x="1448" y="92.6" font-size="37.5" font-weight="bold" fill="#000" letter-spacing="0.1" word-spacing="-5">CoinDesk Data</text>
<g fill="#000">
<rect x="1408.3" y="60.5" width="30.6" height="5.4"/>
<rect x="1405.6" y="63.2" width="5.4" height="30.8"/>
<rect x="1408.3" y="91.3" width="15.2" height="5.4"/>
<circle cx="1408.3" cy="63.2" r="5.4"/>
<circle cx="1423.5" cy="63.2" r="5.4"/>
<circle cx="1438.9" cy="63.2" r="5.4"/>
<circle cx="1408.3" cy="79" r="5.4"/>
<circle cx="1408.3" cy="94" r="5.4"/>
<circle cx="1423.5" cy="94" r="5.4"/>
<circle cx="1423.7" cy="79" r="2.7"/>
<circle cx="1438.9" cy="79" r="2.7"/>
<circle cx="1438.9" cy="94.2" r="2.7"/>
</g>
</svg>
</body></html>
